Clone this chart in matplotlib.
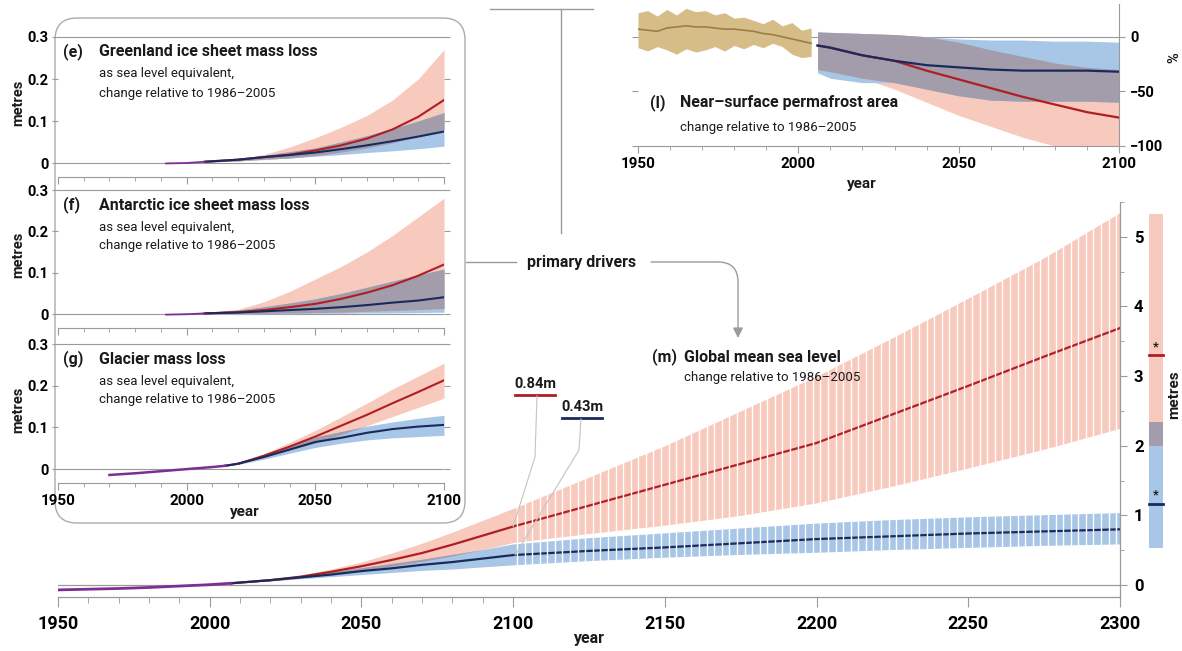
import numpy as np
import matplotlib
matplotlib.use("Agg")
import matplotlib.pyplot as plt
from matplotlib import font_manager
from matplotlib.patches import FancyBboxPatch, FancyArrowPatch
from matplotlib.lines import Line2D
from matplotlib.path import Path
from matplotlib.transforms import Affine2D
from matplotlib.ticker import FixedLocator
from matplotlib.colors import to_rgb

# ---------------- data ----------------
# (m) Global mean sea level, metres
gmsl_hist_years = [1950, 1960, 1970, 1980, 1990, 2000, 2007]
gmsl_hist = [-0.07, -0.06, -0.05, -0.035, -0.015, 0.005, 0.025]

gmsl_years = [2007, 2020, 2030, 2040, 2050, 2060, 2070, 2080, 2090, 2100,
              2125, 2150, 2175, 2200, 2225, 2250, 2275, 2300]
gmsl_85_med = [0.025, 0.07, 0.12, 0.19, 0.27, 0.36, 0.46, 0.58, 0.71, 0.84,
               1.14, 1.44, 1.74, 2.04, 2.45, 2.86, 3.28, 3.69]
gmsl_85_lo = [0.025, 0.06, 0.10, 0.15, 0.21, 0.27, 0.34, 0.42, 0.51, 0.61,
              0.74, 0.86, 1.00, 1.18, 1.42, 1.68, 1.95, 2.25]
gmsl_85_hi = [0.025, 0.08, 0.14, 0.23, 0.33, 0.46, 0.60, 0.76, 0.93, 1.10,
              1.55, 2.00, 2.50, 3.00, 3.55, 4.12, 4.70, 5.35]
gmsl_26_med = [0.025, 0.07, 0.11, 0.15, 0.20, 0.24, 0.29, 0.33, 0.38, 0.43,
               0.49, 0.54, 0.60, 0.66, 0.70, 0.74, 0.77, 0.80]
gmsl_26_lo = [0.025, 0.06, 0.09, 0.12, 0.15, 0.18, 0.21, 0.23, 0.26, 0.29,
              0.35, 0.40, 0.44, 0.47, 0.51, 0.54, 0.57, 0.59]
gmsl_26_hi = [0.025, 0.08, 0.13, 0.19, 0.25, 0.31, 0.37, 0.44, 0.51, 0.59,
              0.68, 0.75, 0.82, 0.89, 0.94, 0.98, 1.01, 1.04]
bar_85_2300 = (1.99, 5.33)
bar_85_med = 3.30
bar_26_2300 = (0.53, 2.34)
bar_26_med = 1.17

# (e) Greenland, (f) Antarctic, (g) Glacier mass loss (m SLE)
ice_years = [2007, 2020, 2030, 2040, 2050, 2060, 2070, 2080, 2090, 2100]
e_hist_years = [1992, 2000, 2007]
e_hist = [-0.001, 0.0, 0.003]
e_85_med = [0.003, 0.008, 0.014, 0.02, 0.03, 0.042, 0.058, 0.08, 0.11, 0.15]
e_85_lo = [0.002, 0.005, 0.008, 0.012, 0.018, 0.026, 0.036, 0.048, 0.063, 0.08]
e_85_hi = [0.004, 0.01, 0.02, 0.038, 0.06, 0.085, 0.113, 0.15, 0.20, 0.27]
e_26_med = [0.003, 0.008, 0.014, 0.019, 0.025, 0.033, 0.042, 0.052, 0.063, 0.075]
e_26_lo = [0.002, 0.005, 0.009, 0.012, 0.016, 0.020, 0.025, 0.029, 0.034, 0.04]
e_26_hi = [0.004, 0.01, 0.018, 0.027, 0.036, 0.05, 0.065, 0.082, 0.10, 0.12]

f_hist_years = [1992, 2000, 2007]
f_hist = [-0.001, 0.0, 0.002]
f_85_med = [0.002, 0.005, 0.01, 0.017, 0.025, 0.037, 0.052, 0.07, 0.093, 0.12]
f_85_lo = [0.0, 0.001, 0.002, 0.003, 0.004, 0.005, 0.007, 0.009, 0.011, 0.014]
f_85_hi = [0.004, 0.012, 0.03, 0.055, 0.085, 0.115, 0.15, 0.19, 0.235, 0.28]
f_26_med = [0.002, 0.004, 0.007, 0.01, 0.013, 0.017, 0.022, 0.028, 0.033, 0.041]
f_26_lo = [0.0, 0.0, 0.001, 0.001, 0.002, 0.002, 0.003, 0.003, 0.004, 0.005]
f_26_hi = [0.004, 0.01, 0.018, 0.027, 0.037, 0.05, 0.065, 0.08, 0.095, 0.109]

g_years = [2015, 2020, 2030, 2040, 2050, 2060, 2070, 2080, 2090, 2100]
g_hist_years = [1970, 1980, 1990, 2000, 2010, 2015]
g_hist = [-0.014, -0.01, -0.005, 0.0, 0.005, 0.008]
g_85_med = [0.008, 0.013, 0.032, 0.054, 0.078, 0.104, 0.13, 0.158, 0.185, 0.213]
g_85_lo = [0.008, 0.012, 0.028, 0.045, 0.063, 0.083, 0.104, 0.126, 0.148, 0.17]
g_85_hi = [0.008, 0.014, 0.037, 0.064, 0.093, 0.125, 0.158, 0.192, 0.223, 0.254]
g_26_med = [0.008, 0.013, 0.029, 0.047, 0.065, 0.075, 0.087, 0.096, 0.102, 0.106]
g_26_lo = [0.008, 0.011, 0.024, 0.038, 0.052, 0.062, 0.07, 0.075, 0.078, 0.081]
g_26_hi = [0.008, 0.015, 0.035, 0.056, 0.077, 0.09, 0.103, 0.113, 0.122, 0.129]

# (l) Near-surface permafrost area, %
pf_hist_years = [1950, 1953, 1956, 1959, 1962, 1965, 1968, 1971, 1974, 1977, 1980,
                 1983, 1986, 1989, 1992, 1995, 1998, 2001, 2004]
pf_hist_med = [7, 6, 5, 8, 9, 10, 9, 9, 8, 7, 7, 6, 5, 3, 2, 0, -2, -4, -6]
pf_hist_hi = [22, 24, 19, 25, 20, 26, 23, 24, 20, 22, 17, 18, 15, 12, 16, 10, 13, 6, 8]
pf_hist_lo = [-10, -13, -9, -12, -16, -11, -14, -12, -9, -13, -8, -11, -7, -10, -6, -9, -16, -19, -18]
pf_years = [2006, 2010, 2020, 2030, 2040, 2050, 2060, 2070, 2080, 2090, 2100]
pf_85_med = [-8, -10, -17, -22, -31, -39, -47, -55, -62, -69, -74]
pf_85_lo = [-30, -32, -38, -48, -60, -72, -82, -92, -100, -100, -100]
pf_85_hi = [4, 4, 3, 2, 0, -5, -12, -18, -24, -28, -30]
pf_26_med = [-8, -10, -17, -22, -26, -28, -30, -31, -31, -31, -32]
pf_26_lo = [-33, -38, -42, -42, -48, -54, -58, -59, -59, -59, -60]
pf_26_hi = [5, 4, 3, 2, 0, -2, -3, -3, -4, -4, -5]

# ---------------- style ----------------
names = {f.name for f in font_manager.fontManager.ttflist}
FAM = "DejaVu Sans"
for cand in ("Roboto", "Open Sans", "Liberation Sans"):
    if cand in names:
        FAM = cand
        break
plt.rcParams["font.family"] = [FAM, "DejaVu Sans"]

PINK = "#F8C9BD"
BLUE = "#A8C6E6"
OVER = tuple(a * b for a, b in zip(to_rgb(PINK), to_rgb(BLUE)))
RED = "#B01E23"
NAVY = "#1B2A5C"
PURPLE = "#7D2E92"
TAN = "#D6BD88"
TANL = "#9C7E45"
GREY = "#9A9A9A"
TXT = "#1A1A1A"

W, H = 1182, 651
fig = plt.figure(figsize=(W / 100, H / 100), dpi=100)
T = Affine2D().scale(1 / W, -1 / H).translate(0, 1) + fig.transFigure


def axes_px(x0, y0, x1, y1, **kw):
    return fig.add_axes([x0 / W, 1 - y1 / H, (x1 - x0) / W, (y1 - y0) / H], **kw)


def ptxt(x, y, s, **kw):
    kw.setdefault("va", "center")
    kw.setdefault("color", TXT)
    return fig.text(x / W, 1 - y / H, s, **kw)


def bands(ax, x, r_lo, r_hi, b_lo, b_hi, z=2):
    x = np.asarray(x)
    r_lo, r_hi, b_lo, b_hi = map(np.asarray, (r_lo, r_hi, b_lo, b_hi))
    ax.fill_between(x, r_lo, r_hi, color=PINK, lw=0, zorder=z)
    ax.fill_between(x, b_lo, b_hi, color=BLUE, lw=0, zorder=z)
    lo = np.maximum(r_lo, b_lo)
    hi = np.minimum(r_hi, b_hi)
    ax.fill_between(x, lo, hi, where=hi > lo, color=OVER, lw=0, zorder=z, interpolate=True)


MINOR_X = [y for y in range(1960, 2100, 10) if y % 50]
TITLE_FS = 11.5
SUB_FS = 9.5

# ---------------- main panel (m) ----------------
ax = axes_px(58, 202, 1120, 597, zorder=0)
ax.set_facecolor("none")
ax.set_xlim(1950, 2300)
ax.set_ylim(-0.172, 5.5)
for s in ("left", "top"):
    ax.spines[s].set_visible(False)
for s in ("bottom", "right"):
    ax.spines[s].set_color(GREY)
    ax.spines[s].set_linewidth(0.9)
ax.axhline(0, color=GREY, lw=0.9, zorder=1)
bands(ax, gmsl_years, gmsl_85_lo, gmsl_85_hi, gmsl_26_lo, gmsl_26_hi)
ax.plot(gmsl_years, gmsl_85_med, color=RED, lw=1.6, zorder=3)
ax.plot(gmsl_years, gmsl_26_med, color=NAVY, lw=1.6, zorder=3)
ax.plot(gmsl_hist_years, gmsl_hist, color=PURPLE, lw=2.0, zorder=3)
# white separations between the post-2100 bars
ax.vlines(np.arange(2101.25, 2300, 2.5), 0.2, 5.6, colors="white", lw=1.0, zorder=4)
xt = list(range(1950, 2301, 50))
ax.xaxis.set_major_locator(FixedLocator(xt))
ax.xaxis.set_minor_locator(FixedLocator(MINOR_X))
ax.yaxis.tick_right()
yt = [0, 1, 2, 3, 4, 5]
ax.yaxis.set_major_locator(FixedLocator(yt))
ax.yaxis.set_minor_locator(FixedLocator([0.5, 1.5, 2.5, 3.5, 4.5, 5.5]))
ax.tick_params(axis="both", which="both", color=GREY, direction="out")
ax.tick_params(axis="x", which="major", length=7, labelsize=13, pad=6)
ax.tick_params(axis="x", which="minor", length=4)
ax.tick_params(axis="y", which="major", length=5, labelsize=12, pad=5)
ax.tick_params(axis="y", which="minor", length=3)
ax.set_xticklabels([str(v) for v in xt], fontweight="bold")
ax.set_yticklabels([str(v) for v in yt], fontweight="bold")

# side bar for 2300
bx, bw = 2311.9, 4.6
ax.bar(bx, bar_85_2300[1] - bar_85_2300[0], bottom=bar_85_2300[0], width=bw, color=PINK, lw=0, clip_on=False)
ax.bar(bx, bar_26_2300[1] - bar_26_2300[0], bottom=bar_26_2300[0], width=bw, color=BLUE, lw=0, clip_on=False)
ax.bar(bx, bar_26_2300[1] - bar_85_2300[0], bottom=bar_85_2300[0], width=bw, color=OVER, lw=0, clip_on=False)
ax.plot([bx - bw / 2, bx + bw / 2], [bar_85_med, bar_85_med], color=RED, lw=2, clip_on=False)
ax.plot([bx - bw / 2, bx + bw / 2], [bar_26_med, bar_26_med], color=NAVY, lw=2, clip_on=False)
ax.text(bx, bar_85_med + 0.12, "*", ha="center", va="center", fontsize=9, fontweight="bold", color=TXT, clip_on=False)
ax.text(bx, bar_26_med + 0.12, "*", ha="center", va="center", fontsize=9, fontweight="bold", color=TXT, clip_on=False)

ptxt(589, 638, "year", ha="center", fontsize=11.5, fontweight="bold")
ptxt(1174, 395, "metres", ha="center", rotation=90, fontsize=11, fontweight="bold")
ptxt(652, 357, "(m)", ha="left", fontsize=TITLE_FS, fontweight="bold")
ptxt(684, 357, "Global mean sea level", ha="left", fontsize=TITLE_FS, fontweight="bold")
ptxt(684, 378, "change relative to 1986\u20132005", ha="left", fontsize=SUB_FS)

# 2100 value callouts
fig.canvas.draw()


def to_px(axx, x, y):
    dx, dy = axx.transData.transform((x, y))
    return dx, H - dy


i2100 = gmsl_years.index(2100)
v85, v26 = gmsl_85_med[i2100], gmsl_26_med[i2100]
p85 = to_px(ax, 2100, v85)
p26 = to_px(ax, 2100, v26)
ptxt(535, 384, f"{v85:.2f}m", ha="center", fontsize=10.5, fontweight="bold")
fig.add_artist(Line2D([515, 555], [395, 395], transform=T, color=RED, lw=2))
ptxt(582, 407, f"{v26:.2f}m", ha="center", fontsize=10.5, fontweight="bold")
fig.add_artist(Line2D([562, 602], [418, 418], transform=T, color=NAVY, lw=2))
fig.add_artist(Line2D([537, 535, p85[0]], [396, 457, p85[1]], transform=T, color="#C4C4C4", lw=0.8, zorder=5))
fig.add_artist(Line2D([581, 579, p26[0] + 2], [419, 450, p26[1]], transform=T, color="#C4C4C4", lw=0.8, zorder=5))

# ---------------- connectors ----------------
fig.add_artist(Line2D([490, 593], [9, 9], transform=T, color=GREY, lw=1))
fig.add_artist(Line2D([561, 561], [9, 233], transform=T, color=GREY, lw=1))
fig.add_artist(Line2D([466, 516], [262, 262], transform=T, color=GREY, lw=1))
ptxt(582, 262, "primary drivers", ha="center", fontsize=11.5, fontweight="bold")
arrow_path = Path([(651, 262), (718, 262), (738, 262), (738, 282), (738, 338)],
                  [Path.MOVETO, Path.LINETO, Path.CURVE3, Path.CURVE3, Path.LINETO])
fig.add_artist(FancyArrowPatch(path=arrow_path, transform=T, arrowstyle="-|>,head_length=6,head_width=3",
                               color=GREY, lw=1, mutation_scale=1))

# ---------------- inset box with (e), (f), (g) ----------------
box = FancyBboxPatch((55, 18), 410, 505, boxstyle="round,pad=0,rounding_size=22", transform=T,
                     fc="white", ec="#ABABAB", lw=1.0, zorder=2)
fig.add_artist(box)

insets = [
    ((37, 177), "(e)", "Greenland ice sheet mass loss", ice_years, e_hist_years, e_hist,
     e_85_med, e_85_lo, e_85_hi, e_26_med, e_26_lo, e_26_hi),
    ((190, 328), "(f)", "Antarctic ice sheet mass loss", ice_years, f_hist_years, f_hist,
     f_85_med, f_85_lo, f_85_hi, f_26_med, f_26_lo, f_26_hi),
    ((344, 483), "(g)", "Glacier mass loss", g_years, g_hist_years, g_hist,
     g_85_med, g_85_lo, g_85_hi, g_26_med, g_26_lo, g_26_hi),
]
for k, ((y0, y1), tag, title, yrs, hy, hv, rm, rl, rh, bm, bl, bh) in enumerate(insets):
    a = axes_px(58, y0, 444, y1, zorder=3)
    a.set_facecolor("none")
    a.set_xlim(1950, 2100)
    a.set_ylim(-0.0333, 0.3)
    for s in ("left", "right"):
        a.spines[s].set_visible(False)
    for s in ("top", "bottom"):
        a.spines[s].set_color(GREY)
        a.spines[s].set_linewidth(0.8)
    a.axhline(0, color=GREY, lw=0.8, zorder=1)
    bands(a, yrs, rl, rh, bl, bh)
    a.plot(yrs, rm, color=RED, lw=1.5, zorder=3)
    a.plot(yrs, bm, color=NAVY, lw=1.5, zorder=3)
    a.plot(hy, hv, color=PURPLE, lw=1.8 if k == 2 else 1.3, zorder=3)
    a.xaxis.set_major_locator(FixedLocator([1950, 2000, 2050, 2100]))
    a.xaxis.set_minor_locator(FixedLocator(MINOR_X))
    a.yaxis.set_major_locator(FixedLocator([0, 0.1, 0.2, 0.3]))
    a.tick_params(axis="both", which="both", color=GREY, direction="out")
    a.tick_params(axis="y", left=True, right=True, length=4, labelsize=10.5, pad=3)
    a.tick_params(axis="x", which="major", length=5, labelsize=11, pad=3)
    a.tick_params(axis="x", which="minor", length=3)
    a.set_yticklabels(["0", "0.1", "0.2", "0.3"], fontweight="bold")
    if k == 2:
        a.set_xticklabels(["1950", "2000", "2050", "2100"], fontweight="bold")
    else:
        a.tick_params(axis="x", labelbottom=False)
    ptxt(18, (y0 + y1) / 2 - 4, "metres", ha="center", rotation=90, fontsize=10.5, fontweight="bold")
    ptxt(63, y0 + 15, tag, ha="left", fontsize=TITLE_FS, fontweight="bold", zorder=6)
    ptxt(99, y0 + 15, title, ha="left", fontsize=TITLE_FS, fontweight="bold", zorder=6)
    ptxt(99, y0 + 37, "as sea level equivalent,", ha="left", fontsize=SUB_FS, zorder=6)
    ptxt(99, y0 + 56, "change relative to 1986\u20132005", ha="left", fontsize=SUB_FS, zorder=6)
ptxt(245, 512, "year", ha="center", fontsize=11, fontweight="bold", zorder=6)

# ---------------- permafrost panel (l) ----------------
al = axes_px(638, 4, 1119, 146, zorder=1)
al.set_facecolor("none")
al.set_xlim(1950, 2100)
al.set_ylim(-100, 30)
for s in ("left", "top"):
    al.spines[s].set_visible(False)
for s in ("bottom", "right"):
    al.spines[s].set_color(GREY)
    al.spines[s].set_linewidth(0.8)
al.axhline(0, color=GREY, lw=0.8, zorder=1)
al.fill_between(pf_hist_years, pf_hist_lo, pf_hist_hi, color=TAN, lw=0, zorder=2)
al.plot(pf_hist_years, pf_hist_med, color=TANL, lw=1.2, zorder=3)
bands(al, pf_years, pf_85_lo, pf_85_hi, pf_26_lo, pf_26_hi)
al.plot(pf_years, pf_85_med, color=RED, lw=1.6, zorder=3)
al.plot(pf_years, pf_26_med, color=NAVY, lw=1.6, zorder=3)
al.xaxis.set_major_locator(FixedLocator([1950, 2000, 2050, 2100]))
al.xaxis.set_minor_locator(FixedLocator(MINOR_X))
al.yaxis.set_major_locator(FixedLocator([-100, -50, 0]))
al.yaxis.tick_right()
al.tick_params(axis="both", which="both", color=GREY, direction="out")
al.tick_params(axis="y", left=True, right=True, length=4, labelsize=10.5, pad=4)
al.tick_params(axis="x", which="major", length=5, labelsize=11, pad=3)
al.tick_params(axis="x", which="minor", length=3)
al.set_yticklabels(["\u2212100", "\u221250", "0"], fontweight="bold")
al.set_xticklabels(["1950", "2000", "2050", "2100"], fontweight="bold")
ptxt(862, 184, "year", ha="center", fontsize=11, fontweight="bold")
ptxt(1174, 58, "%", ha="center", rotation=90, fontsize=10.5, fontweight="bold")
ptxt(650, 103, "(l)", ha="left", fontsize=TITLE_FS, fontweight="bold")
ptxt(680, 103, "Near\u2013surface permafrost area", ha="left", fontsize=TITLE_FS, fontweight="bold")
ptxt(680, 128, "change relative to 1986\u20132005", ha="left", fontsize=SUB_FS)

fig.savefig("out.png", dpi=100, facecolor="white")
